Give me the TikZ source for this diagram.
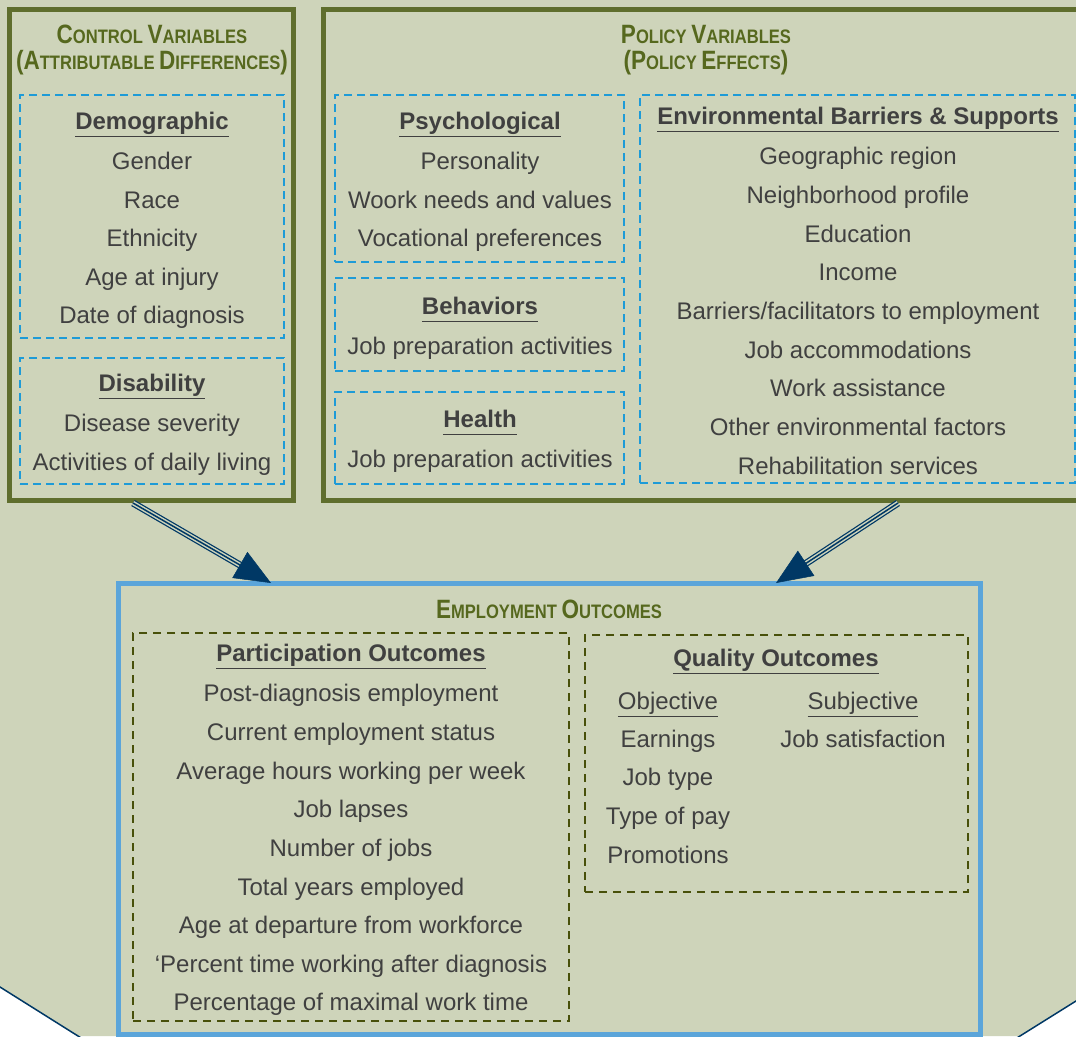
\documentclass[tikz,border=0pt]{standalone}
\usepackage{fontspec}
\setmainfont{Liberation Sans}
\newfontfamily\titlefont[FakeStretch=0.85]{Liberation Sans}
\usetikzlibrary{arrows.meta,calc}
\definecolor{bgc}{RGB}{206,212,186}
\definecolor{olivef}{RGB}{95,110,45}
\definecolor{olivet}{RGB}{86,104,30}
\definecolor{bluedash}{RGB}{30,155,215}
\definecolor{blueout}{RGB}{91,165,218}
\definecolor{olivedash}{RGB}{72,80,10}
\definecolor{txc}{RGB}{64,64,64}
\definecolor{navy}{RGB}{0,56,101}
\newcommand{\hdr}[1]{\textbf{\underline{\vphantom{gjpy}#1}}}
\newcommand{\ulx}[1]{\underline{\vphantom{gjpy}#1}}
\newcommand{\scT}[2]{{\fontsize{26.5}{28}\selectfont #1}{\fontsize{19.5}{20}\selectfont #2}}
\tikzset{
  bx/.style={draw, inner sep=0pt, outer sep=0pt, anchor=north west},
  framebox/.style={bx, draw=olivef, line width=5pt},
  bluebox/.style={bx, draw=bluedash, line width=2.5pt, dash pattern=on 8pt off 5pt},
  empbox/.style={bx, draw=blueout, line width=5pt},
  olbox/.style={bx, draw=olivedash, line width=2.5pt, dash pattern=on 8pt off 6pt},
  txt/.style={inner sep=0pt, anchor=base, text=txc, font=\fontsize{24}{28}\selectfont},
  ttl/.style={inner sep=0pt, anchor=base, text=olivet, font=\titlefont\bfseries\fontsize{19.5}{20}\selectfont},
  shaft/.style={line width=7pt, draw=navy},
  shaftin/.style={line width=4.5pt, draw=bgc},
  shaftc/.style={line width=1.5pt, draw=navy},
  head/.style={draw=navy, fill=navy, line width=0.5pt, -{Triangle[length=36pt,width=30pt]}}
}
\begin{document}
\begin{tikzpicture}[x=1pt,y=-1pt]
\useasboundingbox (0,0) rectangle (1076,1036);
\clip (0,0) rectangle (1076,1036);
% background
\fill[white] (-5,-5) rectangle (1081,1041);
\fill[bgc] (-5,-5) -- (1081,-5) -- (1081,997.6) -- (1076,1001) -- (1020,1036) -- (78,1036) -- (0,987) -- (-5,983.9) -- cycle;
\draw[navy, line width=1.5pt] (-5,983.9) -- (0,987) -- (78,1036) -- (84,1039.8);
\draw[navy, line width=1.5pt] (1014,1039.7) -- (1020,1036) -- (1076,1001) -- (1081,997.9);

% frames
\node[framebox, minimum width=283.5pt, minimum height=490.5pt] (ctrl) at (9.5,9.5) {};
\node[framebox, minimum width=770pt, minimum height=490.5pt] (pol) at (323.5,9.5) {};
\node[empbox, minimum width=861.5pt, minimum height=451pt] (emp) at (118.5,583) {};

% blue dashed boxes
\node[bluebox, minimum width=264pt, minimum height=243pt] (demo) at (20,95) {};
\node[bluebox, minimum width=264pt, minimum height=126pt] (disa) at (20,358) {};
\node[bluebox, minimum width=289pt, minimum height=167pt] (psy) at (335,95) {};
\node[bluebox, minimum width=289pt, minimum height=93pt] (beh) at (335,278) {};
\node[bluebox, minimum width=289pt, minimum height=92pt] (hea) at (335,392) {};
\node[bluebox, minimum width=435pt, minimum height=388pt] (env) at (640,95) {};

% olive dashed boxes
\node[olbox, minimum width=436pt, minimum height=388pt] (part) at (133,633) {};
\node[olbox, minimum width=383pt, minimum height=257pt] (qual) at (585,635) {};

% titles
\node[ttl] (ctA) at (152,43) {\scT{C}{ONTROL}~\scT{V}{ARIABLES}};
\node[ttl] (ctB) at (152,69.5) {\scT{(A}{TTRIBUTABLE}~\scT{D}{IFFERENCES}\scT{)}{}};
\node[ttl] (ptA) at (706,43) {\scT{P}{OLICY}~\scT{V}{ARIABLES}};
\node[ttl] (ptB) at (706,69.5) {\scT{(P}{OLICY}~\scT{E}{FFECTS}\scT{)}{}};
\node[ttl] (etA) at (549,618) {\scT{E}{MPLOYMENT}~\scT{O}{UTCOMES}};

% control texts
\node[txt] (demoh) at (152,129.5) {\hdr{Demographic}};
\node[txt] (d1) at (152,169.5) {Gender};
\node[txt] (d2) at (152,208.5) {Race};
\node[txt] (d3) at (152,246.5) {Ethnicity};
\node[txt] (d4) at (152,285.5) {Age at injury};
\node[txt] (d5) at (152,323.5) {Date of diagnosis};
\node[txt] (disah) at (152,391.5) {\hdr{Disability}};
\node[txt] (s1) at (152,431.5) {Disease severity};
\node[txt] (s2) at (152,470.5) {Activities of daily living};

% policy texts
\node[txt] (psyh) at (480,129.5) {\hdr{Psychological}};
\node[txt] (p1) at (480,169.5) {Personality};
\node[txt] (p2) at (480,208.5) {Woork needs and values};
\node[txt] (p3) at (480,246.5) {Vocational preferences};
\node[txt] (behh) at (480,314.5) {\hdr{Behaviors}};
\node[txt] (b1) at (480,354.5) {Job preparation activities};
\node[txt] (heah) at (480,427.5) {\hdr{Health}};
\node[txt] (h1) at (480,467.5) {Job preparation activities};

\node[txt] (envh) at (858,124.5) {\hdr{Environmental Barriers \& Supports}};
\node[txt] (e1) at (858,164.5) {Geographic region};
\node[txt] (e2) at (858,203.5) {Neighborhood profile};
\node[txt] (e3) at (858,242.5) {Education};
\node[txt] (e4) at (858,280.5) {Income};
\node[txt] (e5) at (858,319.5) {Barriers/facilitators to employment};
\node[txt] (e6) at (858,358.5) {Job accommodations};
\node[txt] (e7) at (858,396.5) {Work assistance};
\node[txt] (e8) at (858,435.5) {Other environmental factors};
\node[txt] (e9) at (858,474.5) {Rehabilitation services};

% participation
\node[txt] (parth) at (351,661.5) {\hdr{Participation Outcomes}};
\node[txt] (o1) at (351,701.5) {Post-diagnosis employment};
\node[txt] (o2) at (351,740.5) {Current employment status};
\node[txt] (o3) at (351,779.5) {Average hours working per week};
\node[txt] (o4) at (351,817.5) {Job lapses};
\node[txt] (o5) at (351,856.5) {Number of jobs};
\node[txt] (o6) at (351,895.5) {Total years employed};
\node[txt] (o7) at (351,933.5) {Age at departure from workforce};
\node[txt] (o8) at (351,972.5) {‘Percent time working after diagnosis};
\node[txt] (o9) at (351,1010.5) {Percentage of maximal work time};

% quality
\node[txt] (qualh) at (776,666.5) {\hdr{Quality Outcomes}};
\node[txt] (qo) at (668,709.5) {\ulx{Objective}};
\node[txt] (qs) at (863,709.5) {\ulx{Subjective}};
\node[txt] (q1) at (668,747.5) {Earnings};
\node[txt] (q2) at (668,785.5) {Job type};
\node[txt] (q3) at (668,824.5) {Type of pay};
\node[txt] (q4) at (668,863.5) {Promotions};
\node[txt] (q5) at (863,747.5) {Job satisfaction};

% arrows
\coordinate (la) at ($(ctrl.south west)+(123.5,3)$);
\coordinate (lt) at ($(emp.north west)+(152.5,0)$);
\coordinate (lb) at ($(lt)!35pt!(la)$);
\coordinate (ra) at ($(pol.south west)+(574.5,3)$);
\coordinate (rt) at ($(emp.north west)+(657.5,0)$);
\coordinate (rb) at ($(rt)!35pt!(ra)$);
\foreach \s/\b in {la/lb, ra/rb}{
  \draw[shaft] (\s) -- (\b);
  \draw[shaftin] (\s) -- (\b);
  \draw[shaftc] (\s) -- (\b);
}
\draw[head] (lb) -- (lt);
\draw[head] (rb) -- (rt);
\end{tikzpicture}
\end{document}
